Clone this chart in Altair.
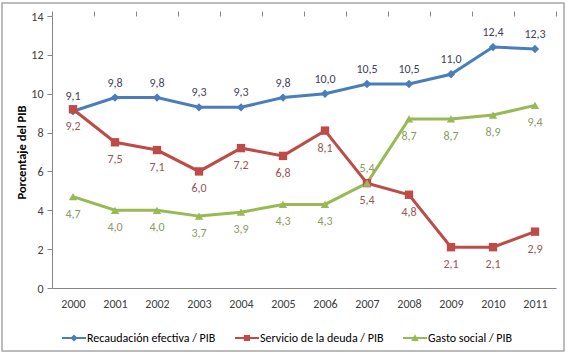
import altair as alt
import pandas as pd

years = [2000, 2001, 2002, 2003, 2004, 2005, 2006, 2007, 2008, 2009, 2010, 2011]
recaudacion = [9.1, 9.8, 9.8, 9.3, 9.3, 9.8, 10.0, 10.5, 10.5, 11.0, 12.4, 12.3]
servicio = [9.2, 7.5, 7.1, 6.0, 7.2, 6.8, 8.1, 5.4, 4.8, 2.1, 2.1, 2.9]
gasto = [4.7, 4.0, 4.0, 3.7, 3.9, 4.3, 4.3, 5.4, 8.7, 8.7, 8.9, 9.4]

series_names = ["Recaudación efectiva / PIB", "Servicio de la deuda / PIB", "Gasto social / PIB"]
line_colors = ["#4A7EBB", "#BE4B48", "#98B954"]
label_colors = ["#3F3F5A", "#955757", "#8A9A63"]
y_ticks = [0, 2, 4, 6, 8, 10, 12, 14]

FONT = "Carlito, Lato, sans-serif"

rows = []
for i, y in enumerate(years):
    for k, vals in enumerate([recaudacion, servicio, gasto]):
        v = vals[i]
        if k == 0:
            pos = "above"
        elif k == 1:
            pos = "below"
        else:
            # social spending labels sit below, unless they collide with the debt label
            pos = "above" if abs(v - servicio[i]) < 0.05 else "below"
        rows.append({"year": y, "series": series_names[k], "value": v,
                     "label": f"{v:.1f}".replace(".", ","), "pos": pos})
df = pd.DataFrame(rows)
df_above = df[df["pos"] == "above"].reset_index(drop=True)
df_below = df[df["pos"] == "below"].reset_index(drop=True)

xscale = alt.Scale(domain=[1999.5, 2011.5], nice=False, zero=False)
yscale = alt.Scale(domain=[0, 14], nice=False)
yaxis = alt.Axis(values=y_ticks, grid=False, tickSize=5, labelPadding=4,
                 title="Porcentaje del PIB", titleFont=FONT, titleFontSize=12.5,
                 titleFontWeight="bold", titleColor="#000000", titleX=-24,
                 labelFont=FONT, labelFontSize=12, labelColor="#404040",
                 domainColor="#868686", tickColor="#868686")
color_scale = alt.Scale(domain=series_names, range=line_colors)
label_scale = alt.Scale(domain=series_names, range=label_colors)

base = alt.Chart(df)

lines = base.mark_line(strokeWidth=3).encode(
    x=alt.X("year:Q", scale=xscale,
            axis=alt.Axis(values=years, format="d", ticks=False, tickSize=0,
                          labelPadding=10, grid=False, title=None,
                          labelFont=FONT, labelFontSize=12, labelColor="#404040",
                          domainColor="#868686")),
    y=alt.Y("value:Q", scale=yscale, axis=yaxis),
    color=alt.Color("series:N", scale=color_scale, legend=None),
    detail="series:N",
)

tick_vals = [1999.5 + i for i in range(13)]
points = base.mark_point(filled=True, size=70, opacity=1).encode(
    x=alt.X("year:Q", scale=xscale,
            axis=alt.Axis(values=tick_vals, labels=False, ticks=True, tickSize=5,
                          domain=False, grid=False, title=None, tickColor="#868686")),
    y=alt.Y("value:Q", scale=yscale, axis=yaxis),
    color=alt.Color("series:N", scale=color_scale, legend=None),
    shape=alt.Shape("series:N",
                    scale=alt.Scale(domain=series_names, range=["diamond", "square", "triangle-up"]),
                    legend=None),
)

legend_paths = [
    "M-1,-0.09L1,-0.09L1,0.09L-1,0.09Z M0,-0.3L0.3,0L0,0.3L-0.3,0Z",
    "M-1,-0.09L1,-0.09L1,0.09L-1,0.09Z M-0.26,-0.26L0.26,-0.26L0.26,0.26L-0.26,0.26Z",
    "M-1,-0.09L1,-0.09L1,0.09L-1,0.09Z M0,-0.32L0.32,0.24L-0.32,0.24Z",
]
leg = alt.Legend(title=None, orient="none", direction="horizontal",
                 legendX=10, legendY=310, symbolSize=576, symbolOpacity=1,
                 symbolStrokeWidth=0, labelFont=FONT,
                 labelFontSize=12, labelColor="#000000",
                 labelOffset=1, columnPadding=19)
legend_layer = base.mark_point(filled=True, opacity=0).encode(
    x=alt.X("year:Q", scale=xscale, axis=None),
    y=alt.Y("value:Q", scale=yscale, axis=yaxis),
    color=alt.Color("series:N", scale=color_scale, legend=leg),
    shape=alt.Shape("series:N", scale=alt.Scale(domain=series_names, range=legend_paths),
                    legend=leg),
)

def text_layer(data, dy):
    return alt.Chart(data).mark_text(dy=dy, font=FONT, fontSize=12).encode(
        x=alt.X("year:Q", scale=xscale, axis=None),
        y=alt.Y("value:Q", scale=yscale, axis=yaxis),
        text="label:N",
        color=alt.Color("series:N", scale=label_scale, legend=None),
    )

above = text_layer(df_above, -15)
below = text_layer(df_below, 17)

border = alt.Chart(alt.Data(values=[{"a": 1}])).mark_rect(
    fill="transparent", stroke="#A6A6A6", strokeWidth=1.5).encode(
    x=alt.value(-50), x2=alt.value(512), y=alt.value(-13), y2=alt.value(335))

chart = alt.layer(lines, points, legend_layer, above, below, border).resolve_axis(
    x="independent").resolve_scale(color="independent", shape="independent").properties(
    width=504, height=272,
    autosize=alt.AutoSizeParams(type="none"),
    padding={"left": 52, "top": 16, "right": 11, "bottom": 68},
    background="white",
).configure_view(stroke=None)

chart.save("out.html", embed_options={"renderer": "svg", "actions": False})
